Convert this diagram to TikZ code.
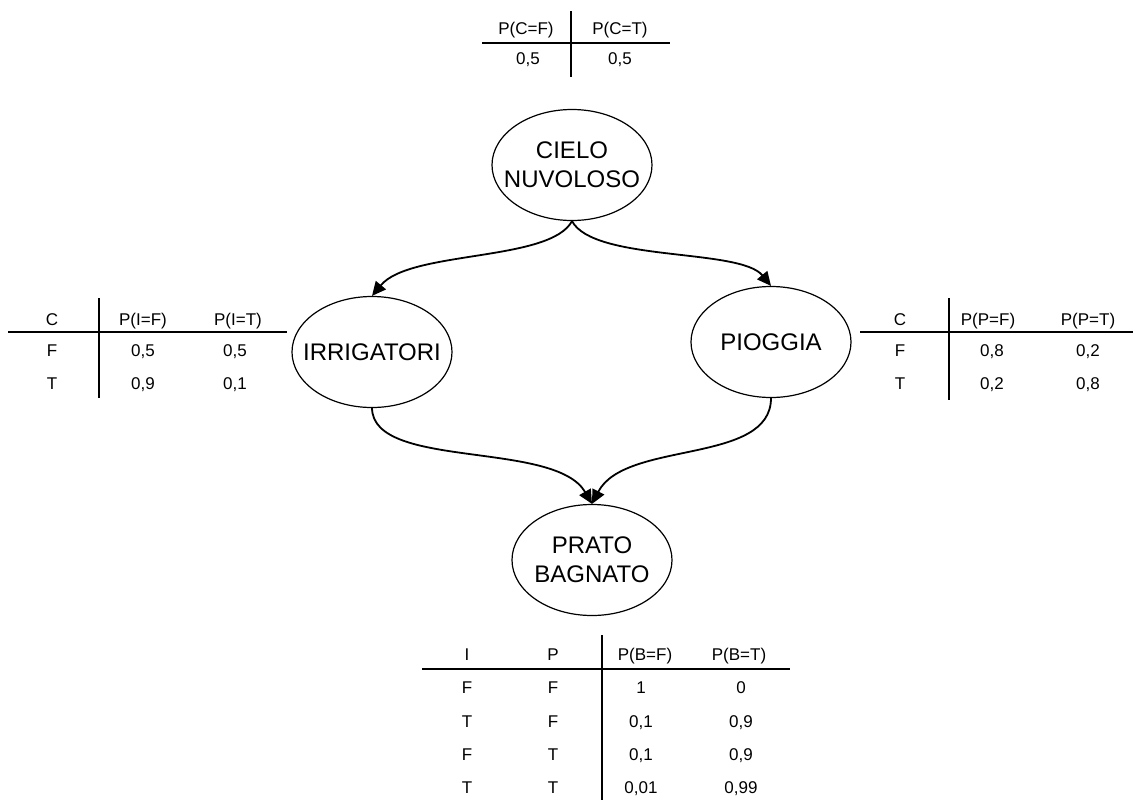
\documentclass[tikz,border=0pt]{standalone}
\usepackage{fontspec}
\setmainfont{Liberation Sans}
\usetikzlibrary{shapes.geometric,arrows.meta}
\begin{document}
\begin{tikzpicture}[x=1pt,y=-1pt,
  varnode/.style={draw,ellipse,line width=1.2pt,minimum width=160pt,minimum height=111pt,inner sep=0pt},
  varname/.style={align=center,inner sep=0pt,font=\fontsize{24}{29}\selectfont},
  tabtext/.style={anchor=base,inner sep=0pt,font=\fontsize{17}{20}\selectfont},
  tabline/.style={line width=2.2pt},
  edgearrow/.style={line width=1.8pt,-{Triangle[length=14pt,width=13pt]}}]
\useasboundingbox (0,0) rectangle (1133,801);

% ---- network nodes (names set as centred labels so the ellipse keeps its size) ----
\node[varnode,label={[varname]center:CIELO\\NUVOLOSO}] (cielo) at (572,165) {};
\node[varnode,label={[varname]center:IRRIGATORI}] (irr) at (372,352) {};
\node[varnode,label={[varname]center:PIOGGIA}] (piog) at (771,342) {};
\node[varnode,label={[varname]center:PRATO\\BAGNATO}] (prato) at (592,560) {};

% ---- dependencies ----
\draw[edgearrow] (cielo.south) .. controls (550,262) and (410,250) .. (irr.north);
\draw[edgearrow] (cielo.south) .. controls (594,262) and (740,248) .. (piog.north);
\draw[edgearrow] (irr.south) .. controls (373,470) and (555,440) .. (prato.north);
\draw[edgearrow] (piog.south) .. controls (771,465) and (625,440) .. (prato.north);

% ---- P(C) ----
\draw[tabline] (482,43) -- (670,43);
\draw[tabline] (571,11) -- (571,77);
\node[tabtext] (c1) at (526,34) {P(C=F)};
\node[tabtext] (c2) at (620,34) {P(C=T)};
\node[tabtext] (c3) at (528,64) {0,5};
\node[tabtext] (c4) at (620,64) {0,5};

% ---- P(I | C) ----
\draw[tabline] (8,332) -- (287,332);
\draw[tabline] (99,298) -- (99,398);
\node[tabtext] (i1) at (52,325) {C};
\node[tabtext] (i2) at (143,325) {P(I=F)};
\node[tabtext] (i3) at (238,325) {P(I=T)};
\node[tabtext] (i4) at (52,356) {F};
\node[tabtext] (i5) at (143,356) {0,5};
\node[tabtext] (i6) at (235,356) {0,5};
\node[tabtext] (i7) at (52,389) {T};
\node[tabtext] (i8) at (143,389) {0,9};
\node[tabtext] (i9) at (235,389) {0,1};

% ---- P(P | C) ----
\draw[tabline] (860,332) -- (1133,332);
\draw[tabline] (949,298) -- (949,400);
\node[tabtext] (p1) at (900,325) {C};
\node[tabtext] (p2) at (988,325) {P(P=F)};
\node[tabtext] (p3) at (1088,325) {P(P=T)};
\node[tabtext] (p4) at (900,356) {F};
\node[tabtext] (p5) at (992,356) {0,8};
\node[tabtext] (p6) at (1088,356) {0,2};
\node[tabtext] (p7) at (900,389) {T};
\node[tabtext] (p8) at (992,389) {0,2};
\node[tabtext] (p9) at (1088,389) {0,8};

% ---- P(B | I, P) ----
\draw[tabline] (422,669) -- (790,669);
\draw[tabline] (602,635) -- (602,800);
\node[tabtext] (b1) at (467,660) {I};
\node[tabtext] (b2) at (553,660) {P};
\node[tabtext] (b3) at (645,660) {P(B=F)};
\node[tabtext] (b4) at (739,660) {P(B=T)};
\node[tabtext] (b5) at (467,693) {F};
\node[tabtext] (b6) at (553,693) {F};
\node[tabtext] (b7) at (641,693) {1};
\node[tabtext] (b8) at (741,693) {0};
\node[tabtext] (b9) at (467,727) {T};
\node[tabtext] (b10) at (553,727) {F};
\node[tabtext] (b11) at (641,727) {0,1};
\node[tabtext] (b12) at (741,727) {0,9};
\node[tabtext] (b13) at (467,760) {F};
\node[tabtext] (b14) at (553,760) {T};
\node[tabtext] (b15) at (641,760) {0,1};
\node[tabtext] (b16) at (741,760) {0,9};
\node[tabtext] (b17) at (467,793) {T};
\node[tabtext] (b18) at (553,793) {T};
\node[tabtext] (b19) at (641,793) {0,01};
\node[tabtext] (b20) at (741,793) {0,99};
\end{tikzpicture}
\end{document}
